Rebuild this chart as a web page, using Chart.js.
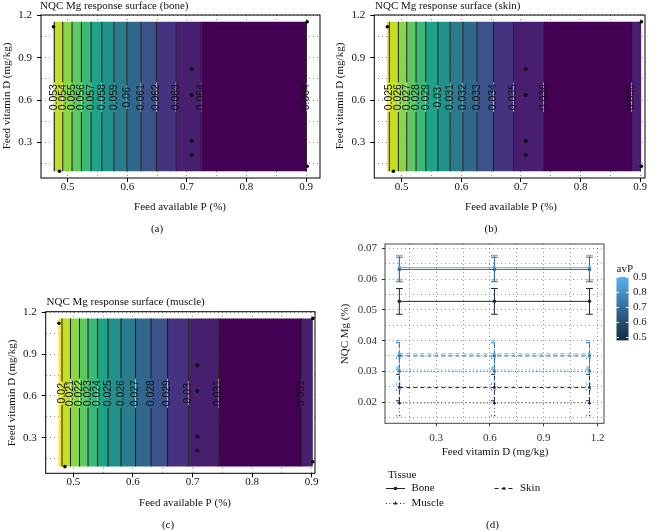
<!DOCTYPE html>
<html>
<head>
<meta charset="utf-8">
<title>NQC Mg response</title>
<script src="https://cdn.jsdelivr.net/npm/chart.js@4.4.1/dist/chart.umd.min.js"></script>
<style>
  html, body { margin: 0; background: #fff; }
  #page { position: relative; width: 653px; height: 530px; overflow: hidden; }
  #page canvas { position: absolute; left: 0; top: 0; }
</style>
</head>
<body>
<div id="page">
  <canvas id="bone" width="653" height="530"></canvas>
  <canvas id="skin" width="653" height="530"></canvas>
  <canvas id="muscle" width="653" height="530"></canvas>
  <canvas id="tissue" width="653" height="530"></canvas>
</div>
<script>
// design points (feed available P %, feed vitamin D mg/kg)
const designP = [0.476, 0.486, 0.708, 0.708, 0.708, 0.708, 0.902, 0.902];
const designD = [1.12, 0.095, 0.82, 0.635, 0.31, 0.21, 1.155, 0.13];
const surfaceP = [0.475, 0.902];
const surfaceD = [0.095, 1.155];

// contour levels and the avP where each one crosses
const boneLevels = [0.053, 0.054, 0.055, 0.056, 0.057, 0.058, 0.059, 0.06, 0.061, 0.062, 0.063, 0.064, 0.064];
const boneAt = [0.4775, 0.4916, 0.5072, 0.5229, 0.5392, 0.5571, 0.5778, 0.5992, 0.6227, 0.6489, 0.6815, 0.724, 0.9005];
const skinLevels = [0.025, 0.026, 0.027, 0.028, 0.029, 0.03, 0.031, 0.032, 0.033, 0.034, 0.035, 0.036, 0.036];
const skinAt = [0.4792, 0.4943, 0.5084, 0.524, 0.5403, 0.5605, 0.5812, 0.6025, 0.6261, 0.6539, 0.6876, 0.738, 0.8854];
const muscleLevels = [0.02, 0.021, 0.022, 0.023, 0.024, 0.025, 0.026, 0.027, 0.028, 0.029, 0.03, 0.031, 0.031];
const muscleAt = [0.481, 0.4953, 0.5104, 0.5247, 0.5406, 0.5582, 0.58, 0.6044, 0.6304, 0.6581, 0.693, 0.7433, 0.882];
const labelD = 0.62;

const pTicks = [0.5, 0.6, 0.7, 0.8, 0.9];
const pGrid = [0.5, 0.55, 0.6, 0.65, 0.7, 0.75, 0.8, 0.85, 0.9];
const dTicks = [0.3, 0.6, 0.9, 1.2];
const dGrid = [0.15, 0.3, 0.45, 0.6, 0.75, 0.9, 1.05, 1.2];

// panel d: NQC Mg by vitamin D at three avP levels
const vitD = [0.095, 0.625, 1.155];
const avP = [0.475, 0.689, 0.902];
const boneMg = [[0.0528, 0.0528, 0.0528], [0.0632, 0.0632, 0.0632], [0.0638, 0.0638, 0.0638]];
const boneSE = [[0.0042, 0.0042, 0.0042], [0.004, 0.004, 0.004], [0.004, 0.004, 0.004]];
const skinMg = [[0.0247, 0.0247, 0.0247], [0.035, 0.035, 0.035], [0.0357, 0.0357, 0.0357]];
const skinSE = [[0.0043, 0.0043, 0.0043], [0.0043, 0.0043, 0.0043], [0.0043, 0.0043, 0.0043]];
const muscleMg = [[0.0197, 0.0197, 0.0197], [0.03, 0.03, 0.03], [0.0305, 0.0305, 0.0305]];
const muscleSE = [[0.0042, 0.0042, 0.0042], [0.0042, 0.0042, 0.0042], [0.0042, 0.0042, 0.0042]];
const vitTicks = [0.3, 0.6, 0.9, 1.2];
const vitGrid = [0.15, 0.3, 0.45, 0.6, 0.75, 0.9, 1.05, 1.2];
const mgTicks = [0.02, 0.03, 0.04, 0.05, 0.06, 0.07];
const mgGrid = [0.015, 0.02, 0.025, 0.03, 0.035, 0.04, 0.045, 0.05, 0.055, 0.06, 0.065, 0.07];
const avPTicks = [0.5, 0.6, 0.7, 0.8, 0.9];

const W = 653, H = 530, AXW = 40, AXH = 30;
const SERIF = '"Liberation Serif", "Times New Roman", serif';
const viridis = ['#fde725', '#c2df23', '#8bd646', '#5ec962', '#3aba76', '#1fa287', '#21918c',
  '#287c8e', '#30678d', '#3b528b', '#46337f', '#481e6f', '#440154'];
const blues = ['#132b43', '#224a6c', '#336a98', '#4590c6', '#56b1f7'];

function hexRgb(h) { return [1, 3, 5].map(i => parseInt(h.slice(i, i + 2), 16)); }
function avpColor(v) {
  const t = Math.min(1, Math.max(0, (v - avP[0]) / (avP[2] - avP[0]))) * (blues.length - 1);
  const i = Math.min(blues.length - 2, Math.floor(t)), f = t - i;
  const a = hexRgb(blues[i]), b = hexRgb(blues[i + 1]);
  return 'rgb(' + a.map((c, k) => Math.round(c + (b[k] - c) * f)).join(',') + ')';
}
const isTick = (list, v) => list.some(t => Math.abs(t - v) < 1e-9);

function axis(min, max, grid, ticks, digits, fit, look) {
  return {
    type: 'linear', min, max,
    afterFit: fit,
    afterBuildTicks: s => { s.ticks = grid.map(v => ({ value: v })); },
    border: { display: false, dash: look.dash },
    grid: {
      color: look.gridColor, lineWidth: 1, tickLength: look.tickLength,
      tickColor: c => isTick(ticks, c.tick.value) ? look.tickColor : 'rgba(0,0,0,0)'
    },
    ticks: {
      autoSkip: false, maxRotation: 0, padding: look.padding, color: look.labelColor,
      font: { family: SERIF, size: 11 },
      callback: v => isTick(ticks, v) ? v.toFixed(digits) : ''
    }
  };
}

function place(box) {
  return { left: box[0] - AXW, top: box[1], right: W - box[2], bottom: H - box[3] - AXH };
}

const texts = {
  id: 'texts',
  afterDraw(chart, args, opts) {
    const ctx = chart.ctx;
    opts.items.forEach(it => {
      ctx.save();
      ctx.font = (it.size || 11) + 'px ' + SERIF;
      ctx.fillStyle = it.color || '#111';
      ctx.textAlign = it.align || 'center';
      ctx.textBaseline = 'middle';
      ctx.translate(it.x, it.y);
      if (it.rot) ctx.rotate(-Math.PI / 2);
      ctx.fillText(it.t, 0, 0);
      ctx.restore();
    });
  }
};

const frame = {
  id: 'frame',
  afterDatasetsDraw(chart, args, opts) {
    const { ctx, chartArea: a } = chart;
    ctx.save();
    ctx.strokeStyle = opts.color;
    ctx.lineWidth = 1;
    ctx.strokeRect(a.left, a.top, a.right - a.left, a.bottom - a.top);
    ctx.restore();
  }
};

const contourLabels = {
  id: 'contourLabels',
  afterDatasetsDraw(chart, args, opts) {
    const { ctx, scales: { x, y } } = chart;
    ctx.save();
    ctx.font = '10.5px "Liberation Sans", Arial, sans-serif';
    ctx.fillStyle = '#111';
    ctx.textAlign = 'center';
    ctx.textBaseline = 'middle';
    opts.at.forEach((p, k) => {
      ctx.save();
      ctx.translate(x.getPixelForValue(p), y.getPixelForValue(labelD));
      ctx.rotate(-Math.PI / 2);
      ctx.fillText(String(opts.levels[k]), 0, 0);
      ctx.restore();
    });
    ctx.restore();
  }
};

function bandColour(levels, i) {
  const n = levels.length;
  const step = k => Math.round((levels[k] - levels[0]) / 0.001);
  if (i === 0) return viridis[0];
  if (i === n) return viridis[step(n - 1)];
  if (levels[i] > levels[i - 1]) return viridis[i];
  return viridis[step(i) + 1];
}

function surface(id, box, pRange, levels, at, title, titlePos, yTitlePos, xTitlePos, sub) {
  const datasets = [];
  const edges = [surfaceP[0], ...at, surfaceP[1]];
  for (let i = 0; i < edges.length - 1; i++) {
    datasets.push({
      data: [{ x: edges[i], y: surfaceD[1] }, { x: edges[i + 1], y: surfaceD[1] }],
      fill: { value: surfaceD[0] }, backgroundColor: bandColour(levels, i),
      borderColor: 'rgba(0,0,0,0)', borderWidth: 0, pointRadius: 0, order: 3
    });
  }
  at.forEach((p, k) => {
    const gap = 0.02 * String(levels[k]).length + 0.004;
    datasets.push({
      data: [{ x: p, y: surfaceD[0] }, { x: p, y: labelD - gap }, { x: p, y: null },
             { x: p, y: labelD + gap }, { x: p, y: surfaceD[1] }],
      borderColor: '#1a1a1a', borderWidth: 1, pointRadius: 0, fill: false, order: 2
    });
  });
  datasets.push({
    data: designP.map((p, i) => ({ x: p, y: designD[i] })),
    showLine: false, pointRadius: 1.8, pointBackgroundColor: '#000', pointBorderWidth: 0, order: 1
  });
  const look = { dash: [1, 3], gridColor: 'rgba(0,0,0,0.45)', tickLength: 4, tickColor: '#000', labelColor: '#111' };
  return new Chart(document.getElementById(id), {
    type: 'line',
    data: { datasets },
    options: {
      responsive: false, animation: false, events: [], devicePixelRatio: 1,
      layout: { padding: place(box) },
      plugins: {
        legend: { display: false }, tooltip: { enabled: false },
        frame: { color: '#000' },
        contourLabels: { at, levels },
        texts: { items: [
          { t: title, x: titlePos[0], y: titlePos[1], align: 'left' },
          { t: 'Feed vitamin D (mg/kg)', x: yTitlePos[0], y: yTitlePos[1], rot: true },
          { t: 'Feed available P (%)', x: xTitlePos[0], y: xTitlePos[1] },
          { t: sub, x: sub === '(a)' ? 157 : sub === '(b)' ? 491 : 168, y: xTitlePos[1] + 22 }
        ] }
      },
      scales: {
        x: axis(pRange[0], pRange[1], pGrid, pTicks, 1, s => { s.height = AXH; }, { ...look, padding: -1.5 }),
        y: axis(0.047, 1.203, dGrid, dTicks, 1, s => { s.width = AXW; }, { ...look, padding: 5 })
      }
    },
    plugins: [frame, contourLabels, texts]
  });
}

surface('bone', [41, 15, 320, 178], [0.4551, 0.9235], boneLevels, boneAt,
  'NQC Mg response surface (bone)', [40, 6], [7, 96], [180, 207], '(a)');
surface('skin', [374.3, 15, 645, 178], [0.454, 0.908], skinLevels, skinAt,
  'NQC Mg response surface (skin)', [375, 6], [340, 96], [511, 207], '(b)');
surface('muscle', [45.7, 311.7, 315, 473.3], [0.4537, 0.9055], muscleLevels, muscleAt,
  'NQC Mg response surface (muscle)', [46.5, 302], [12, 393], [185, 503.5], '(c)');

// ---- panel d ----
const tissues = [
  { name: 'Bone', mg: boneMg, se: boneSE, dash: [], point: 'circle' },
  { name: 'Skin', mg: skinMg, se: skinSE, dash: [4, 3], point: 'rect' },
  { name: 'Muscle', mg: muscleMg, se: muscleSE, dash: [1, 2.5], point: 'triangle' }
];
const capHalf = 0.019;
const dDatasets = [];
tissues.forEach(ts => {
  avP.forEach((a, j) => {
    const col = avpColor(a);
    const bars = [];
    vitD.forEach((x, i) => {
      const lo = ts.mg[j][i] - ts.se[j][i], hi = ts.mg[j][i] + ts.se[j][i];
      bars.push({ x, y: lo }, { x, y: hi }, { x, y: null },
        { x: x - capHalf, y: hi }, { x: x + capHalf, y: hi }, { x, y: null },
        { x: x - capHalf, y: lo }, { x: x + capHalf, y: lo }, { x, y: null });
    });
    dDatasets.push({
      data: bars, borderColor: col, borderWidth: 1, borderDash: ts.dash,
      pointRadius: 0, fill: false, order: 2
    });
    dDatasets.push({
      data: vitD.map((x, i) => ({ x, y: ts.mg[j][i] })),
      borderColor: col, borderWidth: 1, borderDash: ts.dash, fill: false,
      pointStyle: ts.point, pointRadius: ts.point === 'triangle' ? 2.2 : 1.8,
      pointBackgroundColor: col, pointBorderWidth: 0, order: 1
    });
  });
});

const cb = { left: 616.5, width: 12, top: 277, bottom: 340.4 };
const avpBar = {
  id: 'avpBar',
  afterDraw(chart) {
    const ctx = chart.ctx;
    const yOf = v => cb.top + (avP[2] - v) / (avP[2] - avP[0]) * (cb.bottom - cb.top);
    const g = ctx.createLinearGradient(0, cb.bottom, 0, cb.top);
    blues.forEach((c, i) => g.addColorStop(i / (blues.length - 1), c));
    ctx.save();
    ctx.fillStyle = g;
    ctx.fillRect(cb.left, cb.top, cb.width, cb.bottom - cb.top);
    ctx.strokeStyle = '#fff';
    ctx.lineWidth = 1;
    ctx.font = '11px ' + SERIF;
    ctx.fillStyle = '#222';
    ctx.textBaseline = 'middle';
    avPTicks.forEach(v => {
      const y = Math.round(yOf(v)) + 0.5;
      ctx.beginPath();
      ctx.moveTo(cb.left, y); ctx.lineTo(cb.left + 2.5, y);
      ctx.moveTo(cb.left + cb.width - 2.5, y); ctx.lineTo(cb.left + cb.width, y);
      ctx.stroke();
      ctx.fillText(v.toFixed(1), cb.left + cb.width + 4.5, yOf(v));
    });
    ctx.fillText('avP', cb.left, 269);
    ctx.restore();
  }
};

const tissueKey = {
  id: 'tissueKey',
  afterDraw(chart) {
    const ctx = chart.ctx;
    const keys = [
      { ts: tissues[0], x: 386, y: 488.5 },
      { ts: tissues[1], x: 494.5, y: 488.5 },
      { ts: tissues[2], x: 386, y: 503.5 }
    ];
    ctx.save();
    ctx.font = '11px ' + SERIF;
    ctx.fillStyle = '#111';
    ctx.textBaseline = 'middle';
    ctx.fillText('Tissue', 388, 475);
    keys.forEach(k => {
      ctx.save();
      ctx.strokeStyle = '#222';
      ctx.lineWidth = 1;
      ctx.setLineDash(k.ts.dash);
      ctx.beginPath();
      ctx.moveTo(k.x, k.y); ctx.lineTo(k.x + 19, k.y);
      ctx.stroke();
      ctx.restore();
      ctx.save();
      ctx.fillStyle = '#222';
      Chart.helpers.drawPoint(ctx, { pointStyle: k.ts.point, radius: k.ts.point === 'triangle' ? 2.2 : 1.8, borderWidth: 0 }, k.x + 9.5, k.y);
      ctx.restore();
      ctx.fillText(k.ts.name, k.x + 25.5, k.y);
    });
    ctx.restore();
  }
};

const dLook = { dash: [1, 3], gridColor: 'rgba(0,0,0,0.4)', tickLength: 3, tickColor: '#333', labelColor: '#333' };
new Chart(document.getElementById('tissue'), {
  type: 'line',
  data: { datasets: dDatasets },
  options: {
    responsive: false, animation: false, events: [], devicePixelRatio: 1,
    layout: { padding: place([385, 244, 604, 423.3]) },
    plugins: {
      legend: { display: false }, tooltip: { enabled: false },
      frame: { color: '#444' },
      texts: { items: [
        { t: 'NQC Mg (%)', x: 345, y: 334, rot: true },
        { t: 'Feed vitamin D (mg/kg)', x: 495, y: 452.5 },
        { t: '(d)', x: 492.5, y: 525 }
      ] }
    },
    scales: {
      x: axis(0.015, 1.236, vitGrid, vitTicks, 1, s => { s.height = AXH; }, { ...dLook, padding: 5 }),
      y: axis(0.01306, 0.0715, mgGrid, mgTicks, 2, s => { s.width = AXW; }, { ...dLook, padding: 5 })
    }
  },
  plugins: [frame, texts, avpBar, tissueKey]
});
</script>
</body>
</html>
